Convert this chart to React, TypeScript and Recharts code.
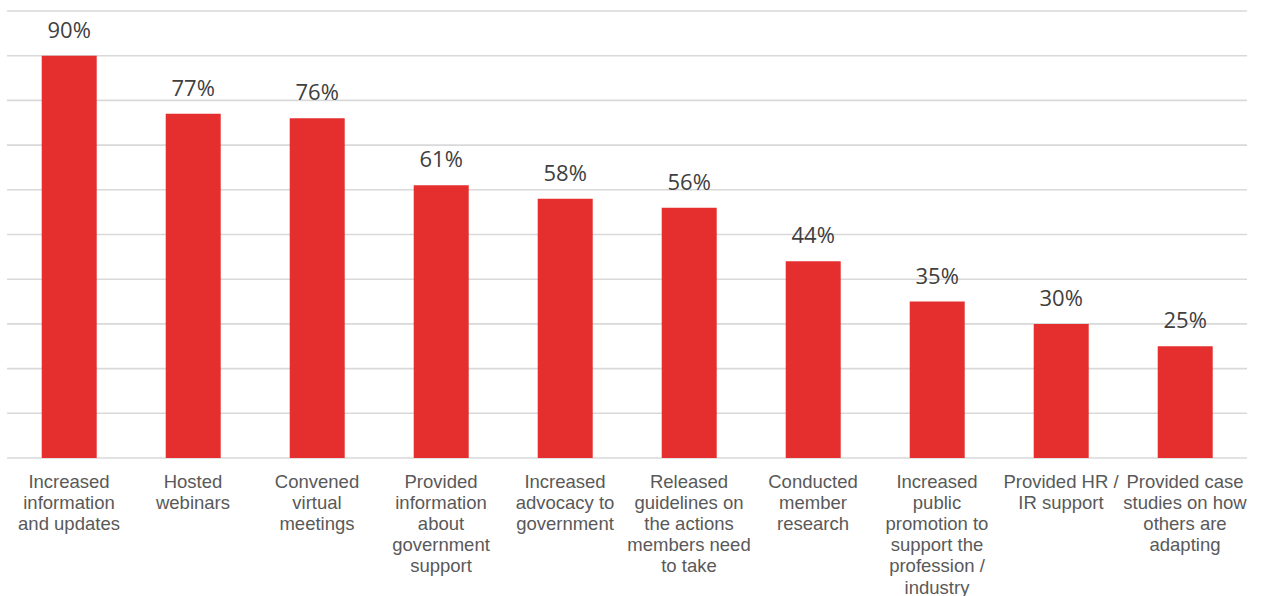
import { BarChart, Bar, XAxis, YAxis, CartesianGrid, LabelList } from "recharts";

const categories = [
  "Increased\ninformation\nand updates",
  "Hosted\nwebinars",
  "Convened\nvirtual\nmeetings",
  "Provided\ninformation\nabout\ngovernment\nsupport",
  "Increased\nadvocacy to\ngovernment",
  "Released\nguidelines on\nthe actions\nmembers need\nto take",
  "Conducted\nmember\nresearch",
  "Increased\npublic\npromotion to\nsupport the\nprofession /\nindustry",
  "Provided HR /\nIR support",
  "Provided case\nstudies on how\nothers are\nadapting",
];

const values = [90, 77, 76, 61, 58, 56, 44, 35, 30, 25];

const yTicks = [0, 10, 20, 30, 40, 50, 60, 70, 80, 90, 100];

const data = categories.map((name, i) => ({ name, value: values[i] }));

const CategoryTick = (props: any) => {
  const { x, y, payload } = props;
  const lines = String(payload.value).split("\n");
  return (
    <text
      x={x}
      y={y + 29.5}
      textAnchor="middle"
      fill="#595959"
      fontSize={18.5}
      fontFamily="'Liberation Sans', Arial, sans-serif"
    >
      {lines.map((line, i) => (
        <tspan key={i} x={x} dy={i === 0 ? 0 : 21.2}>
          {line}
        </tspan>
      ))}
    </text>
  );
};

const App = () => {
  return (
    <div style={{ position: "absolute", left: 0, top: 0 }}>
      <style>{`body{margin:0}`}</style>
      <BarChart
        width={1261}
        height={596}
        data={data}
        barCategoryGap="28%"
        margin={{ top: 11, right: 14, left: 7, bottom: 0 }}
      >
        <CartesianGrid
          vertical={false}
          stroke="#d9d9d9"
          strokeWidth={1.6}
        />
        <XAxis
          dataKey="name"
          interval={0}
          axisLine={false}
          tickLine={false}
          tickSize={0}
          tickMargin={0}
          height={138}
          tick={<CategoryTick />}
        />
        <YAxis hide domain={[0, 100]} ticks={yTicks} width={0} />
        <Bar dataKey="value" fill="#E52E2E" isAnimationActive={false}>
          <LabelList
            dataKey="value"
            position="top"
            offset={18}
            formatter={(v: any) => `${v}%`}
            fill="#404040"
            fontSize={22}
            fontFamily="'Open Sans', sans-serif"
          />
        </Bar>
      </BarChart>
    </div>
  );
};

export default App;
